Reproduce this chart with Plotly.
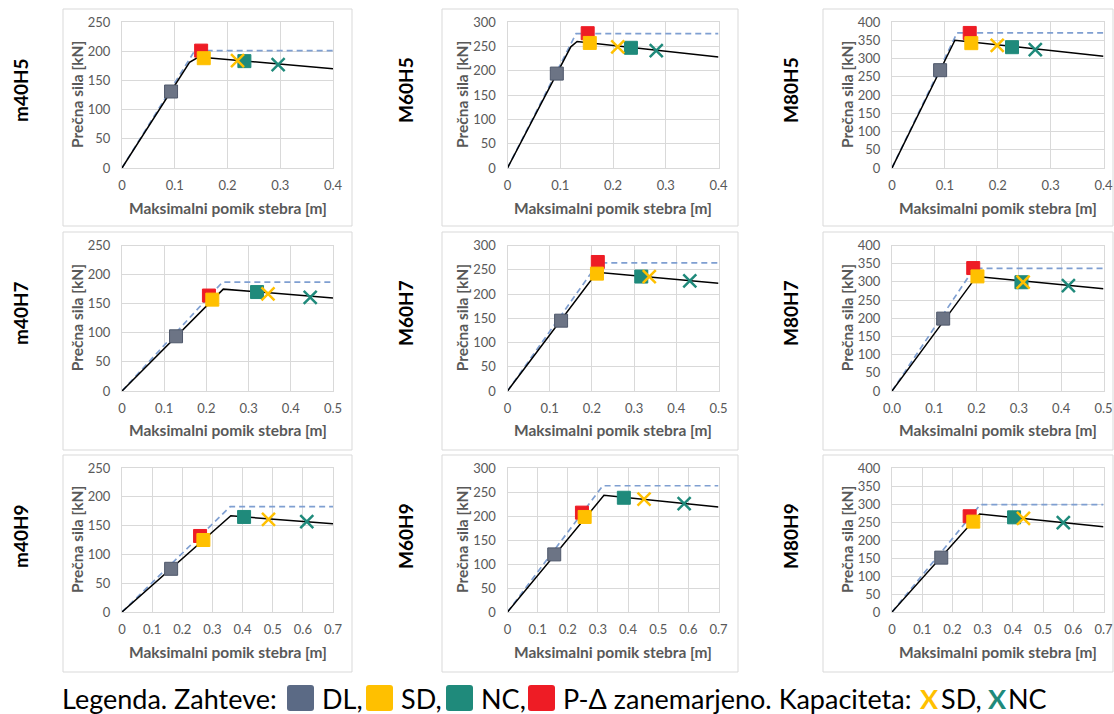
import plotly.graph_objects as go

W, H = 1114, 714

# ---- data -----------------------------------------------------------------
panel_names = ["m40H5", "M60H5", "M80H5",
               "m40H7", "M60H7", "M80H7",
               "m40H9", "M60H9", "M80H9"]
x_max = [0.4, 0.4, 0.4, 0.5, 0.5, 0.5, 0.7, 0.7, 0.7]
y_max = [250, 300, 400, 250, 300, 400, 250, 300, 400]

# pushover curve (solid black)
curve_x = [[0, 0.128, 0.145, 0.4], [0, 0.12, 0.132, 0.4], [0, 0.119, 0.4],
           [0, 0.24, 0.5], [0, 0.212, 0.5], [0, 0.2, 0.5],
           [0, 0.361, 0.7], [0, 0.32, 0.7], [0, 0.29, 0.7]]
curve_y = [[0, 181, 190, 170], [0, 249, 260, 228], [0, 350, 306],
           [0, 175, 160], [0, 245, 222], [0, 315, 281],
           [0, 167, 153], [0, 243, 219], [0, 272, 237]]

# curve without P-delta effects (dashed)
nopd_x = [[0, 0.138, 0.4], [0, 0.13, 0.4], [0, 0.123, 0.4],
          [0, 0.238, 0.5], [0, 0.215, 0.5], [0, 0.194, 0.5],
          [0, 0.359, 0.7], [0, 0.316, 0.7], [0, 0.292, 0.7]]
nopd_y = [[0, 201, 201], [0, 276, 276], [0, 370, 370],
          [0, 187, 187], [0, 264, 264], [0, 337, 337],
          [0, 183, 183], [0, 263, 263], [0, 298, 298]]

# demands
dl_x = [0.093, 0.0935, 0.091, 0.128, 0.127, 0.121, 0.163, 0.155, 0.163]
dl_y = [131, 194, 268, 94, 145, 199, 75, 120, 151]
sd_x = [0.155, 0.156, 0.150, 0.214, 0.212, 0.202, 0.270, 0.256, 0.269]
sd_y = [188, 257, 342, 157, 242, 315, 125, 198, 251]
nc_x = [0.232, 0.234, 0.227, 0.320, 0.317, 0.306, 0.405, 0.386, 0.404]
nc_y = [183, 247, 331, 170, 236, 299, 165, 238, 263]
pd_x = [0.150, 0.152, 0.147, 0.206, 0.214, 0.192, 0.259, 0.247, 0.257]
pd_y = [201, 277, 370, 164, 266, 338, 132, 207, 266]

# capacities
cap_sd_x = [0.219, 0.209, 0.199, 0.346, 0.336, 0.310, 0.486, 0.453, 0.435]
cap_sd_y = [184, 249, 336, 167, 236, 299, 161, 235, 260]
cap_nc_x = [0.296, 0.282, 0.271, 0.446, 0.432, 0.417, 0.613, 0.586, 0.567]
cap_nc_y = [177, 241, 324, 161, 227, 290, 157, 226, 248]

# ---- style ----------------------------------------------------------------
C_DL, C_DL_EDGE = "#6c7485", "#4f586b"
C_SD = "#ffc000"
C_NC = "#1f8a7b"
C_PD = "#ee1c25"
C_LEG_DL = "#5b6a85"
GRID = "#d9d9d9"
TXT = "#595959"
FONT = "Lato"

# plot-area pixel extents per column / row
col_px = [(122, 333), (507.5, 718.5), (892, 1103.5)]
row_px = [(22, 168), (245.5, 391), (468, 612)]
# panel frames
frame_col = [(63, 352), (442, 738), (823, 1113)]
frame_row = [(9, 226), (232, 450), (455, 672)]


def px(x):
    return x / W


def py(y):
    return 1 - y / H


fig = go.Figure()
layout = dict(width=W, height=H, autosize=False,
              margin=dict(l=0, r=0, t=0, b=0, pad=0, autoexpand=False),
              paper_bgcolor="white", plot_bgcolor="white",
              showlegend=False, font=dict(family=FONT, color=TXT))
annotations = []
shapes = []

for i, name in enumerate(panel_names):
    r, c = divmod(i, 3)
    sfx = "" if i == 0 else str(i + 1)
    xa, ya = "x" + sfx, "y" + sfx
    x0, x1 = col_px[c]
    y0, y1 = row_px[r]

    layout["xaxis" + sfx] = dict(
        domain=[px(x0), px(x1)], anchor=ya, range=[0, x_max[i]], dtick=0.1,
        tick0=0, showgrid=True, gridcolor=GRID, gridwidth=1, zeroline=False,
        showline=True, mirror=True, linecolor=GRID, linewidth=1, automargin=False,
        tickfont=dict(size=13, color=TXT, family=FONT),
        tickformat=".1f" if i == 5 else "", ticklabelstandoff=5)
    layout["yaxis" + sfx] = dict(
        domain=[py(y1), py(y0)], anchor=xa, range=[0, y_max[i]], dtick=50,
        showgrid=True, gridcolor=GRID, gridwidth=1, zeroline=False,
        showline=True, mirror=True, linecolor=GRID, linewidth=1, automargin=False,
        tickfont=dict(size=13, color=TXT, family=FONT), ticklabelstandoff=8)

    fig.add_trace(go.Scatter(x=nopd_x[i], y=nopd_y[i], mode="lines",
                             line=dict(color="#7f9fd1", width=1.7, dash="6px,4px"),
                             xaxis=xa, yaxis=ya, cliponaxis=False))
    fig.add_trace(go.Scatter(x=curve_x[i], y=curve_y[i], mode="lines",
                             line=dict(color="black", width=1.5),
                             xaxis=xa, yaxis=ya, cliponaxis=False))

    def sq(x, y, color, edge=None):
        fig.add_trace(go.Scatter(
            x=[x], y=[y], mode="markers", xaxis=xa, yaxis=ya, cliponaxis=False,
            marker=dict(symbol="square", size=13, color=color,
                        line=dict(color=edge or color, width=1))))

    def cross(x, y, color):
        fig.add_trace(go.Scatter(
            x=[x], y=[y], mode="markers", xaxis=xa, yaxis=ya, cliponaxis=False,
            marker=dict(symbol="x-thin", size=13, color=color,
                        line=dict(color=color, width=2.5))))

    sq(dl_x[i], dl_y[i], C_DL, C_DL_EDGE)
    sq(pd_x[i], pd_y[i], C_PD)
    sq(sd_x[i], sd_y[i], C_SD)
    sq(nc_x[i], nc_y[i], C_NC)
    cross(cap_sd_x[i], cap_sd_y[i], C_SD)
    cross(cap_nc_x[i], cap_nc_y[i], C_NC)

    # axis titles
    xt_y = [208, 430, 652][r]
    annotations.append(dict(
        text="<b>Maksimalni pomik stebra [m]</b>", x=px((x0 + x1) / 2), y=py(xt_y),
        xref="paper", yref="paper", showarrow=False, xanchor="center", yanchor="middle",
        font=dict(size=15.5, color=TXT, family=FONT)))
    yt_x = [77, 462, 847][c]
    annotations.append(dict(
        text="<b>Prečna sila [kN]</b>", x=px(yt_x), y=py((y0 + y1) / 2), textangle=-90,
        xref="paper", yref="paper", showarrow=False, xanchor="center", yanchor="middle",
        font=dict(size=15.5, color=TXT, family=FONT)))
    # panel label
    annotations.append(dict(
        text="<b>%s</b>" % name, x=px([20, 405, 790][c]), y=py([90, 313, 536][r]),
        textangle=-90, xref="paper", yref="paper", showarrow=False,
        xanchor="center", yanchor="middle",
        font=dict(size=19, color="black", family=FONT)))

    # panel frame
    fx0, fx1 = frame_col[c]
    fy0, fy1 = frame_row[r]
    shapes.append(dict(type="rect", xref="paper", yref="paper",
                       x0=px(fx0), x1=px(fx1), y0=py(fy1), y1=py(fy0),
                       line=dict(color=GRID, width=1), layer="below"))

# ---- legend line ----------------------------------------------------------
LEG_Y = 698


def leg_text(txt, x, color="black"):
    annotations.append(dict(text=txt, x=px(x), y=py(LEG_Y), xref="paper", yref="paper",
                            showarrow=False, xanchor="left", yanchor="middle",
                            font=dict(size=27, color=color, family=FONT)))


def leg_box(x0, x1, color, rad=3):
    y0, y1 = 685, 711
    p = (f"M {px(x0 + rad)},{py(y0)} L {px(x1 - rad)},{py(y0)} "
         f"Q {px(x1)},{py(y0)} {px(x1)},{py(y0 + rad)} L {px(x1)},{py(y1 - rad)} "
         f"Q {px(x1)},{py(y1)} {px(x1 - rad)},{py(y1)} L {px(x0 + rad)},{py(y1)} "
         f"Q {px(x0)},{py(y1)} {px(x0)},{py(y1 - rad)} L {px(x0)},{py(y0 + rad)} "
         f"Q {px(x0)},{py(y0)} {px(x0 + rad)},{py(y0)} Z")
    shapes.append(dict(type="path", path=p, xref="paper", yref="paper",
                       fillcolor=color, line=dict(width=0)))


leg_text("Legenda. Zahteve:", 60)
leg_box(287, 314, C_LEG_DL)
leg_text("DL,", 320)
leg_box(366, 393, C_SD)
leg_text("SD,", 399)
leg_box(446, 473, C_NC)
leg_text("NC,", 479)
leg_box(528, 555, C_PD)
leg_text("P-Δ zanemarjeno. Kapaciteta:", 561)
leg_text("<b>X</b>", 918, C_SD)
leg_text("SD,", 939)
leg_text("<b>X</b>", 986, C_NC)
leg_text("NC", 1006)

layout["annotations"] = annotations
layout["shapes"] = shapes
fig.update_layout(**layout)

fig.write_html("out.html")
